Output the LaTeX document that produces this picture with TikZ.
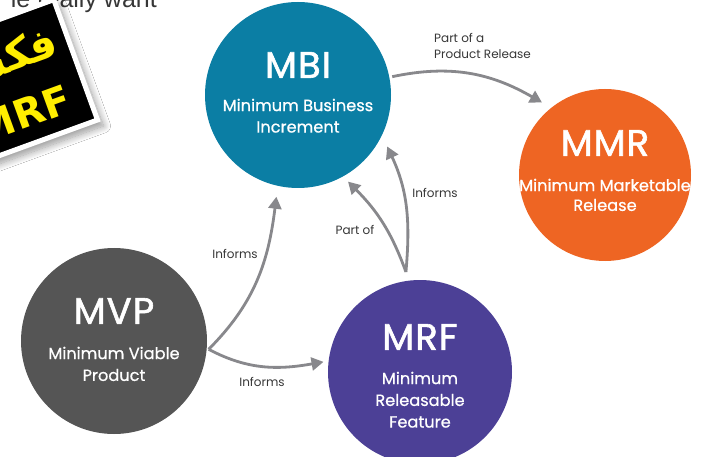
\documentclass[tikz,border=0pt]{standalone}
\usepackage{fontspec}
\setmainfont{Poppins}
\newfontfamily\titlefont[LetterSpace=3, FakeBold=1.6]{Poppins}
\newfontfamily\subfont[FakeBold=0.7]{Poppins}
\newfontfamily\arabicfont[Script=Arabic]{DejaVu Sans}
\newfontfamily\stickerfont{DejaVu Sans}
\newfontfamily\topfont{Liberation Sans}
\TeXXeTstate=1
\usetikzlibrary{calc,arrows.meta,shadows.blur}
\definecolor{mbiC}{RGB}{11,126,164}
\definecolor{mmrC}{RGB}{238,101,35}
\definecolor{mvpC}{RGB}{85,85,85}
\definecolor{mrfC}{RGB}{76,64,150}
\definecolor{arrC}{RGB}{136,136,140}
\definecolor{lblC}{RGB}{55,55,55}
\definecolor{yel}{RGB}{255,238,0}
\tikzset{
  bubble/.style={circle, inner sep=0pt, draw=none},
  ttl/.style={text=white, font=\titlefont\fontsize{37}{40}\selectfont, inner sep=0pt},
  sub/.style={text=white, font=\subfont\fontsize{16.2}{19}\selectfont, inner sep=0pt},
  lbl/.style={text=lblC, font=\fontsize{12}{15.5}\selectfont, inner sep=0pt},
  arr/.style={draw=arrC, line width=2.8pt, -{Triangle[length=12pt,width=13pt]}},
}
\begin{document}
\begin{tikzpicture}[x=1pt,y=1pt]
\useasboundingbox (0,0) rectangle (702,456);
\clip (0,0) rectangle (702,456);
\fill[white] (0,0) rectangle (702,456);

% circles
\node[bubble, fill=mbiC, minimum size=186pt] (mbi) at (298,361) {};
\node[bubble, fill=mmrC, minimum size=172pt] (mmr) at (605,281) {};
\node[bubble, fill=mvpC, minimum size=186pt] (mvp) at (114,115) {};
\node[bubble, fill=mrfC, minimum size=184pt] (mrf) at (420,84) {};

% texts in circles
\node[ttl] (mbiT) at ($(mbi.center)+(0,30)$) {MBI};
\node[sub] (mbiS1) at ($(mbi.center)+(0,-10)$) {Minimum Business};
\node[sub] (mbiS2) at ($(mbi.center)+(0,-32)$) {Increment};

\node[ttl] (mmrT) at ($(mmr.center)+(0,32)$) {MMR};
\node[sub] (mmrS1) at ($(mmr.center)+(0,-10)$) {Minimum Marketable};
\node[sub] (mmrS2) at ($(mmr.center)+(0,-30)$) {Release};

\node[ttl] (mvpT) at ($(mvp.center)+(0,30)$) {MVP};
\node[sub] (mvpS1) at ($(mvp.center)+(0,-12)$) {Minimum Viable};
\node[sub] (mvpS2) at ($(mvp.center)+(0,-34)$) {Product};

\node[ttl] (mrfT) at ($(mrf.center)+(0,35)$) {MRF};
\node[sub] (mrfS1) at ($(mrf.center)+(0,-6)$) {Minimum};
\node[sub] (mrfS2) at ($(mrf.center)+(0,-28)$) {Releasable};
\node[sub] (mrfS3) at ($(mrf.center)+(0,-50)$) {Feature};

% connector end points
\coordinate (mbiOut) at ($(mbi.center)+(11:96pt)$);
\coordinate (mmrIn) at ($(mmr.center)+(131:96pt)$);
\coordinate (mvpOut) at ($(mvp.center)+(-5:95pt)$);
\coordinate (mbiInA) at ($(mbi.center)+(-102:104pt)$);
\coordinate (mrfIn) at ($(mrf.center)+(174:97pt)$);
\coordinate (mrfOut) at ($(mrf.center)+(98:101pt)$);
\coordinate (mbiInB) at ($(mbi.center)+(-60:100pt)$);
\coordinate (mbiInC) at ($(mbi.center)+(-30:103pt)$);

% connectors
\draw[arr] (mbiOut) to[out=12, in=150] (mmrIn);
\draw[arr] (mvpOut) to[out=45, in=-97] (mbiInA);
\draw[arr] (mvpOut) to[out=-28, in=190] (mrfIn);
\draw[arr] (mrfOut) to[out=110, in=-45] (mbiInB);
\draw[arr] (mrfOut) to[out=85, in=-65] (mbiInC);

% labels
\node[lbl, anchor=west, align=left] (lRel) at (434,410) {Part of a\\Product Release};
\node[lbl] (lInfC) at (435,263) {Informs};
\node[lbl] (lPart) at (355,226) {Part of};
\node[lbl] (lInfA) at (235,202) {Informs};
\node[lbl] (lInfB) at (262,74) {Informs};

% top text
\node[anchor=base east, inner sep=0pt, text=lblC, font=\topfont\fontsize{25}{28}\selectfont] (topT) at (157,448.5) {le really want};

% sticker
\node[rotate=20, fill=black, draw=white, line width=5pt, minimum size=128pt, inner sep=0pt,
      blur shadow={shadow xshift=6pt, shadow yshift=-6pt, shadow blur steps=14, shadow blur radius=7pt}] (stk) at (15.5,374.3) {};
\node[rotate=20, text=yel, inner sep=0pt, font=\stickerfont\bfseries\fontsize{40}{44}\selectfont] (stkM) at (23,342) {MRF};
\node[rotate=20, anchor=east, text=yel, inner sep=0pt, font=\arabicfont\bfseries\fontsize{42}{46}\selectfont] (stkA) at (57,412) {\beginR فكس\endR};
\end{tikzpicture}
\end{document}
